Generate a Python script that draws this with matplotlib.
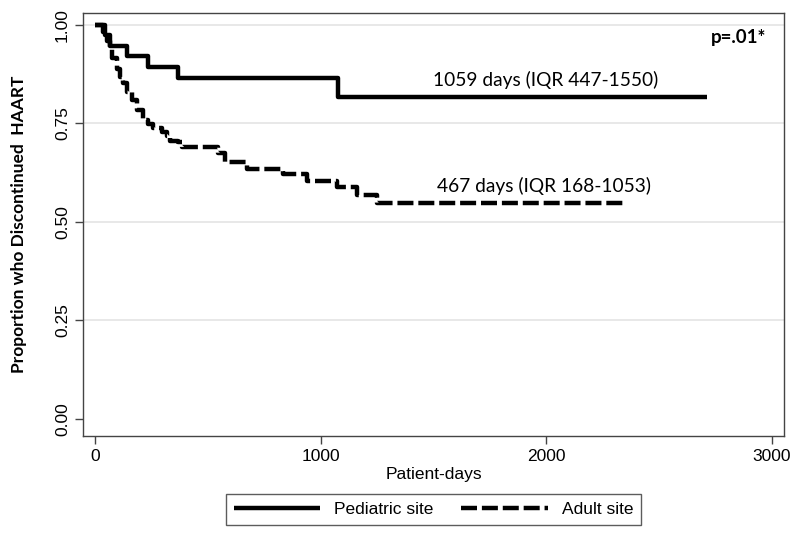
import matplotlib
matplotlib.use("Agg")
import matplotlib.pyplot as plt
import numpy as np

# Kaplan-Meier style curves (days, proportion still on HAART)
ped_days = [0, 45, 68, 142, 235, 368, 1075, 2714]
ped_surv = [1.0, 0.973, 0.947, 0.920, 0.893, 0.865, 0.817, 0.817]

adult_days = [0, 35, 52, 67, 74, 96, 111, 124, 141, 163, 185, 213, 235, 257,
              297, 319, 333, 368, 386, 545, 576, 674, 834, 940, 1073, 1162,
              1251, 2350]
adult_surv = [1.0, 0.981, 0.960, 0.940, 0.915, 0.889, 0.867, 0.851, 0.829,
              0.808, 0.783, 0.758, 0.748, 0.738, 0.728, 0.719, 0.706, 0.702,
              0.690, 0.674, 0.652, 0.635, 0.621, 0.604, 0.589, 0.569, 0.548,
              0.548]

x_ticks = [0, 1000, 2000, 3000]
y_ticks = [0.0, 0.25, 0.50, 0.75, 1.00]
y_ticklabels = ["0.00", "0.25", "0.50", "0.75", "1.00"]

ped_label = "1059 days (IQR 447-1550)"
adult_label = "467 days (IQR 168-1053)"
p_label = "p=.01*"

calib = ["Lato", "DejaVu Sans"]
arial = ["Liberation Sans", "DejaVu Sans"]

fig = plt.figure(figsize=(8, 5.4), dpi=100)
ax = fig.add_axes([0.104, 0.193, 0.876, 0.783])

for y in y_ticks[1:]:
    ax.axhline(y, color="#e4e4e4", lw=1.2, zorder=0)

ax.step(ped_days, ped_surv, where="post", color="black", lw=3.2,
        label="Pediatric site", solid_capstyle="butt")
ax.step(adult_days, adult_surv, where="post", color="black", lw=3.2,
        dashes=(3.6, 1.1), label="Adult site")

ax.set_xlim(-53, 3055)
ax.set_ylim(-0.043, 1.030)
ax.set_xticks(x_ticks)
ax.set_xticklabels([str(v) for v in x_ticks], family=arial, fontsize=12.5)
ax.set_yticks(y_ticks)
ax.set_yticklabels(y_ticklabels, family=arial, fontsize=12.5, rotation=90,
                   va="center")
ax.tick_params(direction="out", length=6, width=1, color="#444444")
for s in ax.spines.values():
    s.set_color("#444444")
    s.set_linewidth(1)

ax.set_xlabel("Patient-days", family=arial, fontsize=12.5, labelpad=2)
ax.set_ylabel("Proportion who Discontinued  HAART", family=calib,
              fontsize=12.5, fontweight="bold", labelpad=20)

ax.text(1499, 0.861, ped_label, family=calib, fontsize=13.8, va="center")
ax.text(1517, 0.592, adult_label, family=calib, fontsize=13.8, va="center")
ax.text(2975, 0.967, p_label, family=calib, fontsize=13.5, fontweight="bold",
        ha="right", va="center")

leg = fig.legend(loc="lower center", bbox_to_anchor=(0.542, 0.012), ncol=2,
                 frameon=True, fancybox=False, edgecolor="#333333",
                 handlelength=5.0, columnspacing=1.6, borderpad=0.45,
                 prop={"family": arial, "size": 12.5})
leg.get_frame().set_linewidth(1)

fig.savefig("out.png", dpi=100)
